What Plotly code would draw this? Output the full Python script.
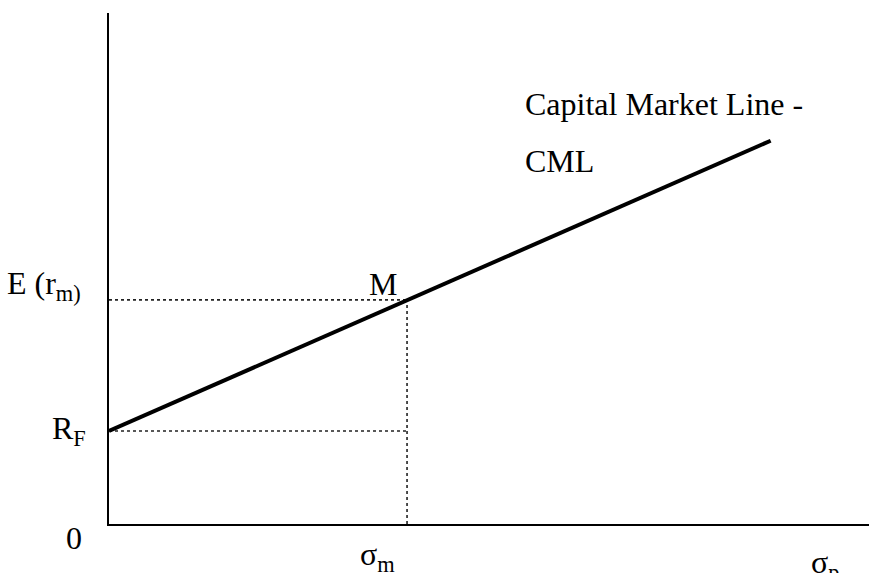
import plotly.graph_objects as go

# Data (abstract units: sigma_m = 1, E(r_m) = 1)
sigma_m = 1.0
er_m = 1.0
rf = 0.415
cml_x = [0.0, 1.0, 2.22]
cml_y = [0.415, 1.0, 1.71]
x_max = 2.55
y_max = 2.28

FONT = "Liberation Serif, Times New Roman, serif"
FS = 32

fig = go.Figure()

dot = dict(color="#222", width=1.6, dash="dot")
fig.add_trace(go.Scatter(x=[0, sigma_m], y=[er_m, er_m], mode="lines", line=dot, hoverinfo="skip"))
fig.add_trace(go.Scatter(x=[0, sigma_m], y=[rf, rf], mode="lines", line=dot, hoverinfo="skip"))
fig.add_trace(go.Scatter(x=[sigma_m, sigma_m], y=[0, er_m], mode="lines", line=dot, hoverinfo="skip"))
fig.add_trace(go.Scatter(x=cml_x, y=cml_y, mode="lines", line=dict(color="black", width=4), hoverinfo="skip"))

f = dict(family=FONT, size=FS, color="black")
ann = [
    dict(x=0, y=er_m, text="E (r<sub>m)</sub>", xanchor="right", yanchor="middle", xshift=-26, yshift=14),
    dict(x=0, y=rf, text="R<sub>F</sub>", xanchor="right", yanchor="middle", xshift=-21, yshift=0),
    dict(x=0, y=0, text="0", xanchor="right", yanchor="middle", xshift=-25, yshift=-14),
    dict(x=sigma_m, y=er_m, text="M", xanchor="right", yanchor="middle", xshift=-8, yshift=16),
    dict(x=sigma_m, y=0, text="σ<sub>m</sub>", xanchor="center", yanchor="middle", xshift=-30, yshift=-32),
    dict(x=(825 - 109) / 760 * x_max, y=0, text="σ<sub>p</sub>", xanchor="center", yanchor="middle", yshift=-40),
    dict(x=cml_x[-1], y=cml_y[-1], text="Capital Market Line -", xanchor="left", yanchor="middle", xshift=-248, yshift=37),
    dict(x=cml_x[-1], y=cml_y[-1], text="CML", xanchor="left", yanchor="middle", xshift=-248, yshift=-20),
]
for a in ann:
    a.update(xref="x", yref="y", showarrow=False, font=f)

fig.update_layout(
    width=869, height=573,
    margin=dict(l=109, r=0, t=13, b=49),
    paper_bgcolor="white", plot_bgcolor="white",
    showlegend=False,
    annotations=ann,
    xaxis=dict(range=[0, x_max], showgrid=False, zeroline=False, showticklabels=False, ticks="",
               showline=True, linecolor="black", linewidth=2, fixedrange=True),
    yaxis=dict(range=[0, y_max], showgrid=False, zeroline=False, showticklabels=False, ticks="",
               showline=True, linecolor="black", linewidth=2, fixedrange=True),
)

fig.write_html("out.html", config={"displayModeBar": False},
               post_script="document.body.style.margin='0';document.body.style.overflow='hidden';")
